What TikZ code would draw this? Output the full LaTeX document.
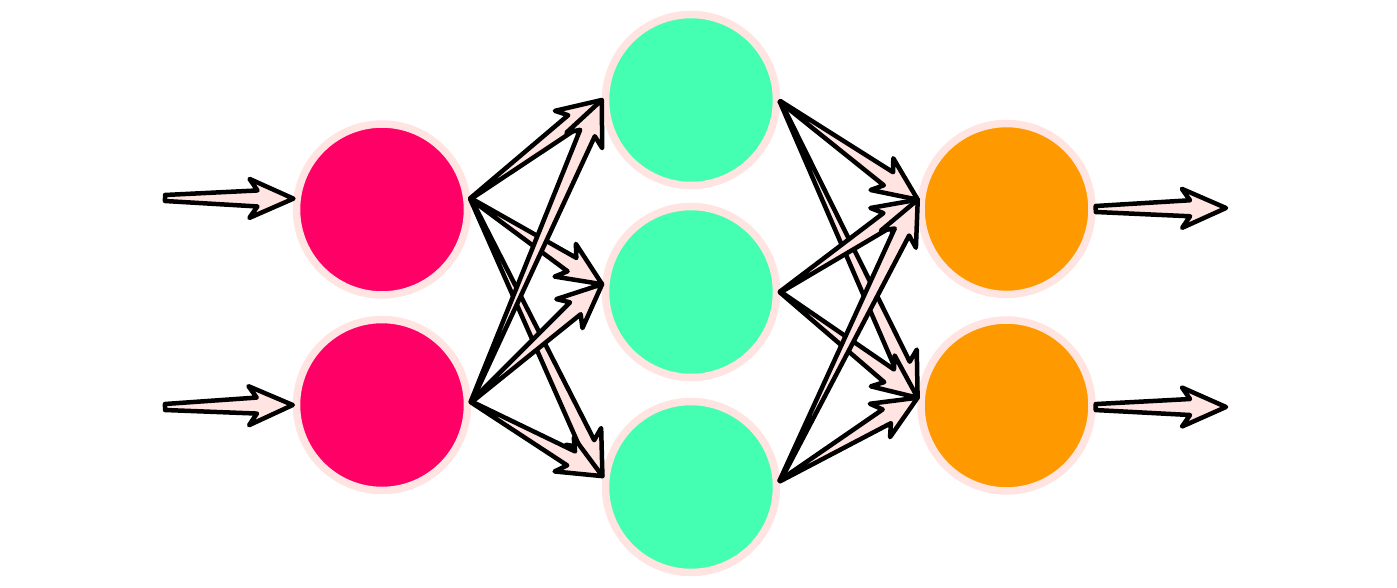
\documentclass[tikz,border=0pt]{standalone}
\usetikzlibrary{calc}
\definecolor{nred}{HTML}{FF0066}
\definecolor{ngreen}{HTML}{44FFB2}
\definecolor{norange}{HTML}{FF9900}
\definecolor{npink}{HTML}{FFE4E1}
\tikzset{
  neuron/.style={circle, draw=npink, line width=0.15cm, inner sep=0pt, minimum size=3.42cm},
  arrowbody/.style={draw=black, fill=npink, line width=0.09cm, line join=round},
}
\newcommand\tarr[3]{%
  \draw[arrowbody] ($(#1)!#3!90:(#2)$)
    -- ($(#2)!0.72cm!(#1)!0.16cm!-90:(#1)$)
    -- ($(#2)!0.88cm!(#1)!0.39cm!-90:(#1)$)
    -- (#2)
    -- ($(#2)!0.88cm!(#1)!0.39cm!90:(#1)$)
    -- ($(#2)!0.72cm!(#1)!0.16cm!90:(#1)$)
    -- ($(#1)!#3!-90:(#2)$) -- cycle;}
\begin{document}
\begin{tikzpicture}[x=0.02cm, y=-0.02cm]
\useasboundingbox (0,0) rectangle (1397,588);
% neurons
\node[neuron, fill=nred] (r1) at (382,209.5) {};
\node[neuron, fill=nred] (r2) at (382,405) {};
\node[neuron, fill=ngreen] (g1) at (691,100) {};
\node[neuron, fill=ngreen] (g2) at (691,292) {};
\node[neuron, fill=ngreen] (g3) at (691,487) {};
\node[neuron, fill=norange] (o1) at (1006.5,209) {};
\node[neuron, fill=norange] (o2) at (1006.5,405.5) {};
% free ends
\coordinate (in1) at (165,198);
\coordinate (in2) at (165,407);
\coordinate (out1) at (1226,208);
\coordinate (out2) at (1226,407);
% input arrows
\tarr{in1}{r1.173}{0.06cm}
\tarr{in2}{r2.180}{0.06cm}
% red to green
\tarr{r1.7}{g1.180}{0.01cm}
\tarr{r1.7}{g2.175}{0.01cm}
\tarr{r1.7}{g3.173}{0.01cm}
\tarr{r2.2}{g1.180}{0.01cm}
\tarr{r2.2}{g2.175}{0.01cm}
\tarr{r2.2}{g3.173}{0.01cm}
% green to orange
\tarr{g1.-1}{o1.174}{0.01cm}
\tarr{g1.-1}{o2.175}{0.01cm}
\tarr{g2.0}{o1.174}{0.01cm}
\tarr{g2.0}{o2.175}{0.01cm}
\tarr{g3.4}{o1.174}{0.01cm}
\tarr{g3.4}{o2.175}{0.01cm}
% output arrows
\tarr{o1.0}{out1}{0.06cm}
\tarr{o2.-1}{out2}{0.06cm}
\end{tikzpicture}
\end{document}
